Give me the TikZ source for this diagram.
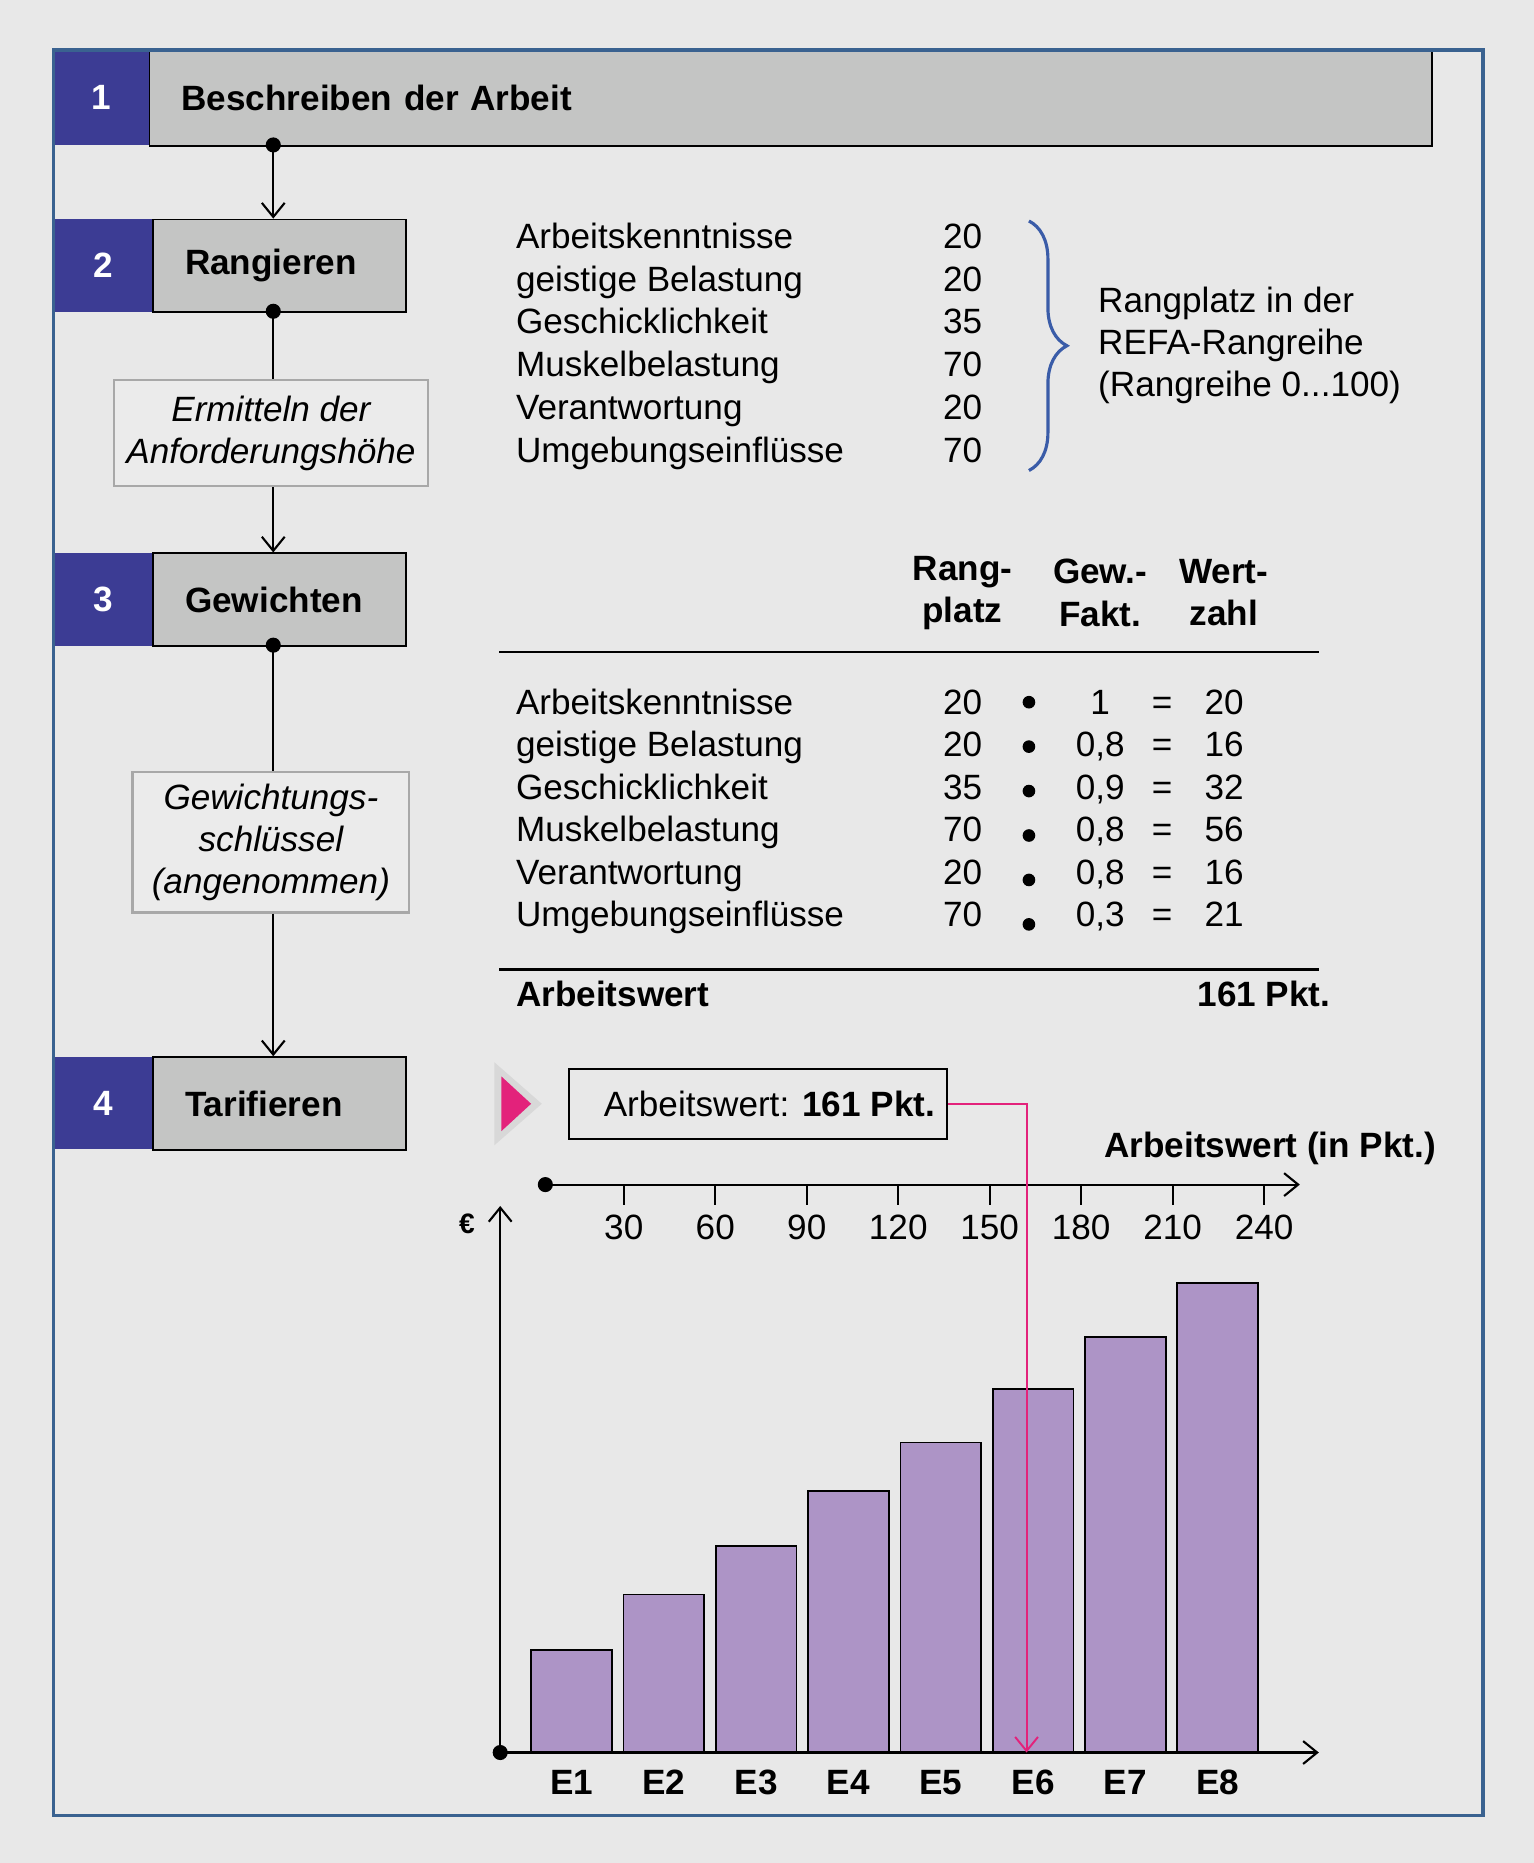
\documentclass[tikz,border=0pt]{standalone}
\usepackage{fontspec}
\setmainfont{Liberation Sans}
\usepackage{tikz}
\usetikzlibrary{positioning}
\usetikzlibrary{calc}
\usetikzlibrary{arrows.meta}
\usetikzlibrary{decorations.pathreplacing}
\definecolor{bggrey}{HTML}{E8E8E8}
\definecolor{framecol}{HTML}{3A6290}
\definecolor{stepblue}{HTML}{3C3C94}
\definecolor{stepgrey}{HTML}{C4C5C4}
\definecolor{notegrey}{HTML}{A8A8A8}
\definecolor{notefill}{HTML}{EBEBEB}
\definecolor{bracecol}{HTML}{3A5CA8}
\definecolor{pinkcol}{HTML}{E3227B}
\definecolor{shadowgrey}{HTML}{D8D8D8}
\definecolor{barlila}{HTML}{AD94C6}
\newcommand{\ux}{0.02377cm}
\newcommand{\bigtxt}{\fontsize{20}{24}\selectfont}
\tikzset{stepnum/.style={fill=stepblue,text=white,anchor=north west,font=\bfseries\bigtxt},
steptitle/.style={draw,line width=1pt,fill=stepgrey,anchor=north west,align=left,inner xsep=27*\ux,minimum height=78*\ux,font=\bfseries\bigtxt},
notebox/.style={draw=notegrey,line width=1.2pt,fill=notefill,align=center,font=\itshape\bigtxt},
txt/.style={font=\bigtxt,inner sep=0pt},
btxt/.style={font=\bfseries\bigtxt,inner sep=0pt},
conn/.style={line width=1.2pt},
tip/.style={-{Straight Barb[length=8pt,width=13pt]}},
bar/.style={draw,line width=1pt,fill=barlila}}

\begin{document}
\begin{tikzpicture}[x=0.02377cm,y=-0.02377cm]
\fill[bggrey] (0,0) rectangle (1291,1568);
% Schritte
\node[steptitle,text width=24.38cm,minimum height=80*\ux] (s1) at (125,42) {Beschreiben der Arbeit};
\node[stepnum,minimum width=80*\ux,minimum height=80*\ux] (n1) at (45,42) {1};
\node[steptitle,text width=3.78cm] (s2) at (128,184) {Rangieren};
\node[stepnum,minimum width=83*\ux,minimum height=78*\ux] (n2) at (45,184) {2};
\node[steptitle,text width=3.78cm] (s3) at (128,465) {Gewichten};
\node[stepnum,minimum width=83*\ux,minimum height=78*\ux] (n3) at (45,465) {3};
\node[steptitle,text width=3.78cm] (s4) at (128,889) {Tarifieren};
\node[stepnum,minimum width=83*\ux,minimum height=78*\ux] (n4) at (45,889) {4};
\node[notebox,minimum width=264*\ux,minimum height=89*\ux] (e1) at (228,364.5) {Ermitteln der\\Anforderungshöhe};
\node[notebox,minimum width=233*\ux,minimum height=118*\ux] (e2) at (228,709) {Gewichtungs-\\schlüssel\\(angenommen)};
\coordinate (d1) at (230,122);
\coordinate (d2) at (230,262);
\coordinate (d3) at (230,543);
\draw[conn,tip] (d1) -- (d1 |- s2.north);
\draw[conn] (d2) -- (d2 |- e1.north);
\draw[conn,tip] (d2 |- e1.south) -- (d2 |- s3.north);
\draw[conn] (d3) -- (d3 |- e2.north);
\draw[conn,tip] (d3 |- e2.south) -- (d3 |- s4.north);
\foreach \d in {d1,d2,d3} \fill (\d) circle[radius=4.3pt];
% Rangieren
\foreach \k/\r [count=\i from 0] in {Arbeitskenntnisse/20,geistige Belastung/20,Geschicklichkeit/35,Muskelbelastung/70,Verantwortung/20,Umgebungseinflüsse/70}{
  \node[txt,anchor=base west] (k\i) at (434,{209+36*\i}) {\k};
  \node[txt,anchor=base east] (r\i) at (827,{209+36*\i}) {\r};
}
\draw[bracecol,line width=1.8pt,decorate,decoration={brace,amplitude=0.76cm}] (866,186) -- (866,396);
\node[txt,anchor=west,align=left] (rp) at (924,291) {Rangplatz in der\\REFA-Rangreihe\\(Rangreihe 0...100)};
% Gewichten
\node[btxt,align=center] (hr) at (810,499) {Rang-\\platz};
\node[btxt,align=center] (hf) at (926,499) {Gew.-\\Fakt.};
\node[btxt,align=center] (hw) at (1030,499) {Wert-\\zahl};
\draw[line width=1.3pt] (420,549) -- (1110,549);
\foreach \k/\r/\f/\w [count=\i from 0] in {Arbeitskenntnisse/20/1/20,geistige Belastung/20/{0,8}/16,Geschicklichkeit/35/{0,9}/32,Muskelbelastung/70/{0,8}/56,Verantwortung/20/{0,8}/16,Umgebungseinflüsse/70/{0,3}/21}{
  \node[txt,anchor=base west] (tk\i) at (434,{601+35.8*\i}) {\k};
  \node[txt,anchor=base east] (tr\i) at (827,{601+35.8*\i}) {\r};
  \fill (866,{591+35.8*\i+1.6*\i}) circle[radius=3.6pt];
  \node[txt,anchor=base] (tf\i) at (926,{601+35.8*\i}) {\f};
  \node[txt,anchor=base] (te\i) at (978,{601+35.8*\i}) {=};
  \node[txt,anchor=base east] (tw\i) at (1047,{601+35.8*\i}) {\w};
}
\draw[line width=1.3pt] (420,816) -- (1110,816);
\node[btxt,anchor=base west] (aws) at (434,847) {Arbeitswert};
\node[btxt,anchor=base east] (awp) at (1120,847) {161 Pkt.};
% Tarifieren
\fill[shadowgrey] (416,894) -- (456,929) -- (416,964) -- cycle;
\fill[pinkcol] (422,906) -- (447,929) -- (422,952) -- cycle;
\node[draw,line width=1.1pt,minimum width=318*\ux,minimum height=59*\ux,font=\bigtxt] (aw) at (638,929) {\hspace*{13pt}Arbeitswert: \textbf{161 Pkt.}};
\node[btxt,anchor=base east] (axl) at (1209,974) {Arbeitswert (in Pkt.)};
\coordinate (o1) at (459,997);
\coordinate (x1) at (1094,997);
\draw[conn,tip] (o1) -- (x1);
\fill (o1) circle[radius=4.3pt];
\foreach \v [count=\i] in {30,60,...,240}{
  \draw[conn] (448+77*\i,997) -- ++(0,17);
  \node[txt] (t\i) at (448+77*\i,1033) {\v};
}
\foreach \t [count=\i] in {1389,1342,1301,1255,1214,1169,1125,1080}{
  \draw[bar] ({447+77.7*(\i-1)},1475) rectangle ++(68,{\t-1475});
  \node[btxt] (E\i) at ({481+77.7*(\i-1)},1500) {E\i};
}
\coordinate (o2) at (421,1475);
\coordinate (y2) at (421,1015);
\coordinate (x2) at (1110,1475);
\draw[conn,tip] (o2) -- (y2);
\draw[conn,tip] (o2) -- (x2);
\fill (o2) circle[radius=4.3pt];
\node[font=\bfseries\fontsize{16}{18}\selectfont,inner sep=0pt] (eur) at (393,1030) {€};
\coordinate (hit) at (864,1475);
\draw[pinkcol,line width=1.1pt,tip] (aw.east) -| (hit);
% Rahmen
\draw[framecol,line width=2.2pt] (45,42) rectangle (1248,1528);
\end{tikzpicture}
\end{document}
